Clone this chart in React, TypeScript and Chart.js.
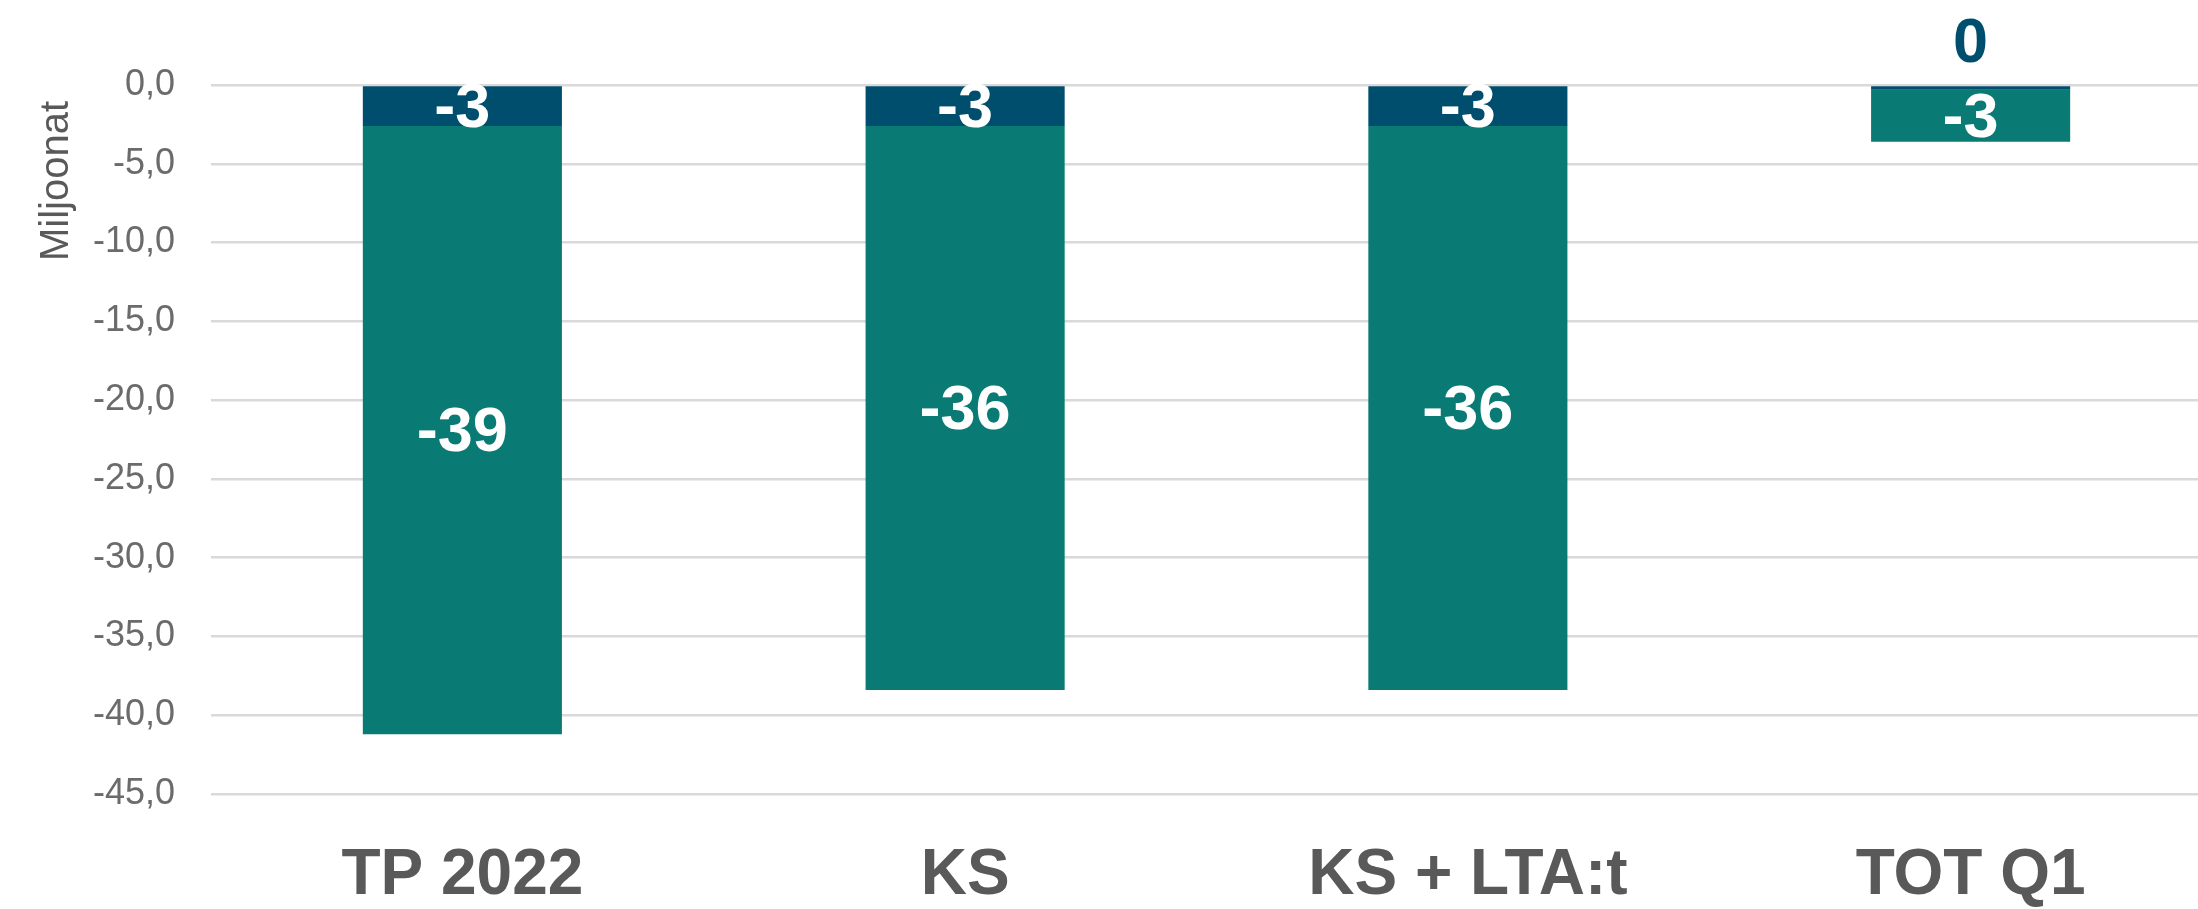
import React, { useEffect, useRef } from "react";
import { Chart, registerables } from "chart.js";

Chart.register(...registerables);

const categories = ["TP 2022", "KS", "KS + LTA:t", "TOT Q1"];
const topSeries = [-2.6, -2.6, -2.6, -0.3];
const mainSeries = [-38.6, -35.8, -35.8, -3.3];
const yTickMin = -45;
const yTickMax = 0;
const yTickStep = 5;
const yAxisTitle = "Miljoonat";

const DARK = "#004E6E";
const TEAL = "#0A7B74";

export default function App() {
  const ref = useRef<HTMLCanvasElement | null>(null);

  useEffect(() => {
    if (!ref.current) return;

    const labelPlugin = {
      id: "barLabels",
      afterDatasetsDraw(chart: any) {
        const ctx = chart.ctx;
        ctx.save();
        ctx.font = "bold 63px 'Liberation Sans', Arial, sans-serif";
        ctx.textAlign = "center";
        ctx.textBaseline = "middle";
        chart.data.datasets.forEach((ds: any, di: number) => {
          const meta = chart.getDatasetMeta(di);
          meta.data.forEach((el: any, i: number) => {
            const v = ds.data[i] as number;
            const txt = String(Math.round(v) === 0 ? 0 : Math.round(v));
            const h = Math.abs(el.base - el.y);
            if (h < 20) {
              ctx.fillStyle = ds.backgroundColor;
              ctx.fillText(txt, el.x, Math.min(el.y, el.base) - 42);
            } else {
              ctx.fillStyle = "#FFFFFF";
              ctx.fillText(txt, el.x, (el.y + el.base) / 2 + 4);
            }
          });
        });
        ctx.restore();
      },
    };

    const titlePlugin = {
      id: "yTitle",
      afterDraw(chart: any) {
        const ctx = chart.ctx;
        ctx.save();
        ctx.font = "40px 'Liberation Sans', Arial, sans-serif";
        ctx.fillStyle = "#595959";
        ctx.textAlign = "center";
        ctx.textBaseline = "alphabetic";
        ctx.translate(68, 181);
        ctx.rotate(-Math.PI / 2);
        ctx.fillText(yAxisTitle, 0, 0);
        ctx.restore();
      },
    };

    const chart = new Chart(ref.current, {
      type: "bar",
      data: {
        labels: categories,
        datasets: [
          {
            label: "top",
            data: topSeries,
            backgroundColor: DARK,
            borderWidth: 0,
            categoryPercentage: 1,
            barPercentage: 0.396,
          },
          {
            label: "main",
            data: mainSeries,
            backgroundColor: TEAL,
            borderWidth: 0,
            categoryPercentage: 1,
            barPercentage: 0.396,
          },
        ],
      },
      options: {
        responsive: false,
        maintainAspectRatio: false,
        animation: false,
        devicePixelRatio: 1,
        layout: { padding: { top: 85, left: 0, right: 18, bottom: 0 } },
        plugins: {
          legend: { display: false },
          tooltip: { enabled: false },
        },
        scales: {
          x: {
            stacked: true,
            grid: { display: false, drawTicks: false },
            border: { display: false },
            ticks: {
              padding: 44,
              color: "#595959",
              font: { family: "'Liberation Sans', Arial, sans-serif", size: 64, weight: "bold", lineHeight: 1.2 },
            },
            afterFit(scale: any) {
              scale.height = 115;
            },
          },
          y: {
            stacked: true,
            min: yTickMin,
            max: yTickMax,
            grid: { color: "#D9D9D9", lineWidth: 2.5, drawTicks: false },
            border: { display: false },
            ticks: {
              stepSize: yTickStep,
              padding: 36,
              color: "#6B6B6B",
              font: { family: "'Liberation Sans', Arial, sans-serif", size: 36 },
              callback: (v: any) => Number(v).toFixed(1).replace(".", ","),
            },
            afterFit(scale: any) {
              scale.width = 211;
            },
          },
        },
      },
      plugins: [labelPlugin, titlePlugin],
    });

    return () => chart.destroy();
  }, []);

  return (
    <div
      style={{
        position: "fixed",
        left: 0,
        top: 0,
        width: 2198,
        height: 909,
        overflow: "hidden",
        background: "#FFFFFF",
      }}
    >
      <canvas ref={ref} width={2240} height={909} style={{ width: 2240, height: 909, display: "block" }} />
    </div>
  );
}
